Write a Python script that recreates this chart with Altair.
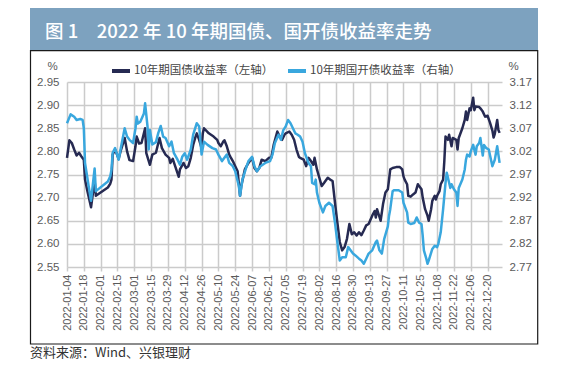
import altair as alt
import pandas as pd

TITLE = "图 1\u20032022 年 10 年期国债、国开债收益率走势"
SOURCE = "资料来源：Wind、兴银理财"
SERIES = ["10年期国债收益率（左轴）", "10年期国开债收益率（右轴）"]
START = "2022-01-04"

# 10Y government bond yield (left axis): day offsets from START and values
gz_days = [0, 2, 4, 6, 8, 10, 12, 14, 15, 17, 20, 22, 23, 24, 34, 36, 37, 38, 40, 43,
           45, 48, 50, 52, 55, 57, 58, 60, 62, 65, 66, 69, 71, 74, 77, 79, 82, 85, 86, 88,
           90, 93, 94, 97, 99, 101, 103, 105, 107, 108, 110, 112, 113, 114, 118, 122, 125, 126, 128, 130,
           131, 133, 135, 136, 138, 140, 142, 144, 145, 148, 151, 154, 156, 158, 160, 162, 165, 168, 170, 172,
           175, 177, 179, 181, 182, 185, 187, 189, 191, 193, 194, 197, 199, 201, 203, 205, 206, 208, 210, 212,
           214, 217, 219, 221, 223, 225, 227, 229, 231, 233, 235, 237, 239, 241, 243, 245, 247, 249, 251, 254,
           256, 257, 258, 261, 263, 265, 267, 268, 269, 271, 274, 277, 279, 280, 281, 283, 284, 286, 288, 290,
           292, 293, 295, 296, 298, 300, 301, 303, 304, 306, 307, 308, 310, 311, 313, 314, 315, 317, 318, 320,
           321, 324, 325, 326, 329, 331, 332, 333, 335, 336, 338, 339, 340, 343, 344, 346, 348, 350, 352, 354,
           355, 356, 358, 359, 360]
gz_vals = [2.786, 2.824, 2.818, 2.804, 2.791, 2.797, 2.789, 2.782, 2.739, 2.714, 2.679, 2.718, 2.736, 2.704, 2.722, 2.730, 2.739, 2.793, 2.804, 2.784,
           2.804, 2.829, 2.800, 2.781, 2.779, 2.811, 2.832, 2.817, 2.818, 2.850, 2.796, 2.771, 2.793, 2.797, 2.829, 2.807, 2.793, 2.786, 2.775, 2.784,
           2.768, 2.745, 2.761, 2.775, 2.764, 2.768, 2.786, 2.814, 2.832, 2.839, 2.825, 2.807, 2.839, 2.850, 2.839, 2.832, 2.825, 2.818, 2.811, 2.821,
           2.824, 2.811, 2.793, 2.788, 2.779, 2.768, 2.757, 2.704, 2.725, 2.761, 2.775, 2.786, 2.764, 2.757, 2.764, 2.782, 2.779, 2.786, 2.786, 2.814,
           2.843, 2.832, 2.825, 2.836, 2.839, 2.843, 2.836, 2.825, 2.804, 2.788, 2.786, 2.782, 2.768, 2.786, 2.779, 2.771, 2.786, 2.761, 2.743, 2.725,
           2.732, 2.743, 2.739, 2.736, 2.689, 2.646, 2.604, 2.586, 2.593, 2.611, 2.643, 2.621, 2.625, 2.618, 2.625, 2.619, 2.629, 2.640, 2.643, 2.661,
           2.671, 2.657, 2.675, 2.650, 2.686, 2.711, 2.718, 2.739, 2.761, 2.764, 2.766, 2.766, 2.761, 2.746, 2.739, 2.729, 2.704, 2.702, 2.707, 2.711,
           2.729, 2.725, 2.718, 2.700, 2.675, 2.661, 2.650, 2.675, 2.693, 2.704, 2.696, 2.704, 2.714, 2.729, 2.739, 2.779, 2.832, 2.825, 2.836, 2.811,
           2.829, 2.825, 2.804, 2.829, 2.850, 2.868, 2.886, 2.868, 2.893, 2.889, 2.916, 2.889, 2.897, 2.896, 2.893, 2.886, 2.875, 2.877, 2.862, 2.845,
           2.830, 2.838, 2.868, 2.846, 2.840]

# 10Y China Development Bank bond yield (right axis)
kf_days = [0, 3, 6, 8, 11, 13, 14, 15, 18, 20, 22, 23, 24, 34, 36, 37, 38, 40, 43, 45,
           48, 50, 52, 55, 57, 58, 59, 61, 64, 65, 67, 68, 69, 71, 74, 76, 78, 80, 82, 85,
           87, 89, 92, 94, 96, 98, 100, 103, 105, 108, 110, 112, 114, 117, 121, 124, 126, 129, 131, 133,
           135, 138, 140, 143, 144, 146, 149, 151, 154, 156, 158, 161, 165, 169, 171, 173, 176, 178, 180, 182,
           184, 186, 188, 190, 192, 194, 196, 198, 200, 201, 203, 204, 206, 207, 208, 210, 213, 215, 218, 221,
           223, 225, 227, 229, 232, 234, 236, 238, 240, 243, 245, 247, 249, 251, 254, 257, 258, 260, 262, 264,
           267, 268, 269, 271, 272, 276, 279, 280, 281, 283, 284, 286, 289, 291, 293, 295, 296, 297, 299, 300,
           301, 304, 306, 308, 309, 311, 313, 315, 316, 318, 319, 320, 322, 324, 325, 326, 329, 331, 332, 333,
           335, 336, 338, 340, 341, 343, 344, 346, 347, 349, 351, 354, 356, 358, 360]
kf_vals = [3.081, 3.100, 3.095, 3.088, 3.090, 3.088, 3.070, 2.995, 2.945, 2.913, 2.960, 2.983, 2.934, 2.955, 2.966, 2.980, 3.017, 3.027, 3.002, 3.030,
           3.070, 3.052, 3.045, 3.038, 3.070, 3.095, 3.080, 3.084, 3.102, 3.124, 3.074, 3.024, 3.066, 3.035, 3.040, 3.060, 3.075, 3.052, 3.049, 3.031,
           3.041, 3.016, 3.002, 2.991, 3.009, 3.016, 3.002, 3.024, 3.056, 3.081, 3.074, 3.013, 3.041, 3.034, 3.027, 3.024, 3.013, 2.999, 3.006, 3.013,
           2.995, 2.988, 2.977, 2.945, 2.924, 2.959, 2.984, 2.999, 3.008, 2.988, 2.977, 2.988, 2.995, 2.999, 3.013, 3.038, 3.056, 3.045, 3.066, 3.074,
           3.088, 3.081, 3.070, 3.059, 3.056, 3.052, 3.041, 3.016, 3.002, 2.995, 2.988, 2.952, 2.949, 2.959, 2.931, 2.909, 2.888, 2.902, 2.909, 2.902,
           2.866, 2.824, 2.784, 2.791, 2.791, 2.813, 2.806, 2.799, 2.795, 2.788, 2.784, 2.777, 2.788, 2.799, 2.806, 2.824, 2.827, 2.806, 2.799, 2.831,
           2.858, 2.881, 2.895, 2.934, 2.936, 2.936, 2.931, 2.909, 2.902, 2.888, 2.866, 2.863, 2.865, 2.877, 2.866, 2.863, 2.838, 2.806, 2.788, 2.777,
           2.784, 2.809, 2.816, 2.813, 2.820, 2.845, 2.895, 2.952, 2.974, 2.952, 2.941, 2.949, 2.938, 2.931, 2.902, 2.941, 2.959, 2.981, 3.002, 3.013,
           3.009, 3.020, 3.034, 3.013, 3.031, 3.038, 3.049, 3.011, 3.034, 3.027, 3.024, 2.988, 3.002, 3.031, 2.995]

x_ticks = ["2022-01-04", "2022-01-18", "2022-02-01", "2022-02-15", "2022-03-01", "2022-03-15",
           "2022-03-29", "2022-04-12", "2022-04-26", "2022-05-10", "2022-05-24", "2022-06-07",
           "2022-06-21", "2022-07-05", "2022-07-19", "2022-08-02", "2022-08-16", "2022-08-30",
           "2022-09-13", "2022-09-27", "2022-10-11", "2022-10-25", "2022-11-08", "2022-11-22",
           "2022-12-06", "2022-12-20"]
x_range = ["2022-01-04", "2023-01-01"]
left_ticks = [2.55, 2.60, 2.65, 2.70, 2.75, 2.80, 2.85, 2.90, 2.95]
right_ticks = [2.77, 2.82, 2.87, 2.92, 2.97, 3.02, 3.07, 3.12, 3.17]

DARK = "#262A52"
LIGHT = "#39A7DE"
BANNER = "#7DA2BF"
GRID = "#CBCBCB"
LABEL = "#5A5A5A"
FONT = "Liberation Sans, Noto Sans CJK SC"
CJK = "Noto Sans CJK SC"


def dt(s):
    y, m, d = (int(p) for p in s.split("-"))
    return alt.DateTime(year=y, month=m, date=d)


start = pd.Timestamp(START)
df_gz = pd.DataFrame({"date": start + pd.to_timedelta(gz_days, unit="D"),
                      "value": gz_vals, "series": SERIES[0]})
df_kf = pd.DataFrame({"date": start + pd.to_timedelta(kf_days, unit="D"),
                      "value": kf_vals, "series": SERIES[1]})
one = pd.DataFrame({"k": [0]})

x_enc = alt.X("date:T",
              scale=alt.Scale(domain=[dt(s) for s in x_range]),
              axis=alt.Axis(values=[dt(s) for s in x_ticks], format="%Y-%m-%d",
                            labelAngle=270, labelFontSize=11, labelColor=LABEL, labelFont=FONT,
                            labelPadding=3, tickSize=4, tickColor=GRID, tickWidth=1.5,
                            domain=False, grid=True, gridColor=GRID, gridWidth=1.5,
                            title=None, labelOverlap=False, labelFlush=False))

color = alt.Color("series:N",
                  scale=alt.Scale(domain=SERIES, range=[DARK, LIGHT]),
                  legend=alt.Legend(title=None, orient="none", legendX=43, legendY=-22,
                                    direction="horizontal", symbolType="stroke",
                                    symbolStrokeWidth=4, symbolSize=324,
                                    labelFontSize=11.5, labelColor="#444444", labelFont=CJK,
                                    columnPadding=6, padding=0, labelOffset=2))

gz = alt.Chart(df_gz).mark_line(strokeWidth=2.5, strokeJoin="round").encode(
    x=x_enc,
    y=alt.Y("value:Q",
            scale=alt.Scale(domain=[2.55, 2.95], nice=False, zero=False),
            axis=alt.Axis(orient="left", values=left_ticks, format=".2f",
                          labelFontSize=11.5, labelColor=LABEL, labelFont=FONT, labelPadding=8,
                          ticks=False, domain=False, grid=True, gridColor=GRID, gridWidth=1.5,
                          title="%", titleAngle=0, titleX=-15, titleY=-16, titleAlign="center",
                          titleBaseline="middle", titleFontSize=11.5, titleFontWeight="normal",
                          titleColor=LABEL, titleFont=FONT)),
    color=color,
)

kf = alt.Chart(df_kf).mark_line(strokeWidth=2.5, strokeJoin="round").encode(
    x=x_enc,
    y=alt.Y("value:Q",
            scale=alt.Scale(domain=[2.77, 3.17], nice=False, zero=False),
            axis=alt.Axis(orient="right", values=right_ticks, format=".2f",
                          labelFontSize=11.5, labelColor=LABEL, labelFont=FONT, labelPadding=7,
                          ticks=False, domain=False, grid=False,
                          title="%", titleAngle=0, titleX=11, titleY=-16, titleAlign="center",
                          titleBaseline="middle", titleFontSize=11.5, titleFontWeight="normal",
                          titleColor=LABEL, titleFont=FONT)),
    color=color,
)

banner = alt.Chart(one).mark_rect(color=BANNER).encode(
    x=alt.value(-37), x2=alt.value(471), y=alt.value(-75), y2=alt.value(-31))
border = alt.Chart(one).mark_rect(fillOpacity=0, stroke="#1a1a1a", strokeWidth=1.2).encode(
    x=alt.value(-36.5), x2=alt.value(470.7), y=alt.value(-31.3), y2=alt.value(262))
title = alt.Chart(one).mark_text(text=TITLE, align="left", baseline="middle", fontSize=18.5,
                                 fontWeight=500, color="white", font=CJK).encode(
    x=alt.value(-22), y=alt.value(-50.5))
footer = alt.Chart(one).mark_text(text=SOURCE, align="left", baseline="middle", fontSize=13,
                                  color="#333333", font=CJK).encode(
    x=alt.value(-37), y=alt.value(270.5))

chart = alt.layer(banner, border, gz, kf, title, footer).resolve_scale(
    y="independent"
).properties(
    width=435, height=185,
    autosize=alt.AutoSizeParams(type="none"),
    padding={"left": 59, "top": 74, "right": 64, "bottom": 94},
    background="white",
).configure_view(strokeWidth=0)

chart.save("out.html", embed_options={"renderer": "svg", "actions": False})
